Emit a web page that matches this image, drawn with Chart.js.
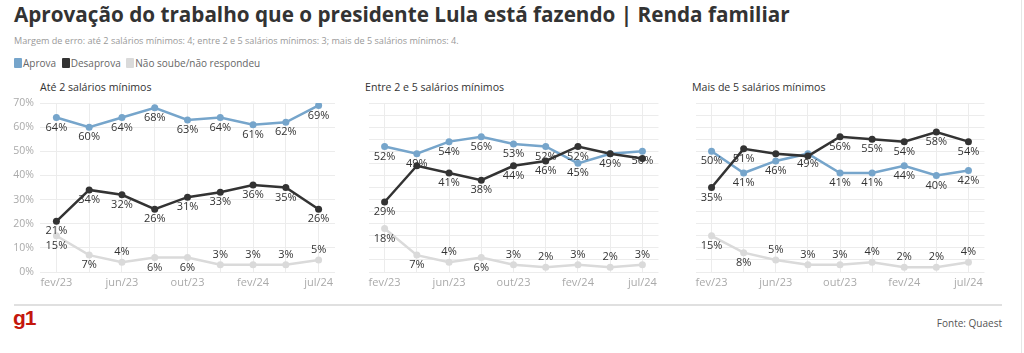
<!DOCTYPE html>
<html>
<head>
<meta charset="utf-8">
<script src="https://cdn.jsdelivr.net/npm/chart.js@4"></script>
<style>
  body { margin: 0; width: 1024px; height: 353px; background: #fff; font-family: "Open Sans", sans-serif; position: relative; overflow: hidden; }
  .abs { position: absolute; white-space: nowrap; }
  #titulo { left: 14px; top: 0px; font-size: 20.7px; font-weight: bold; color: #333; }
  #sub { left: 14px; top: 34px; font-size: 9.1px; color: #999; }
  #legenda { left: 14px; top: 56px; font-size: 10px; color: #666; }
  #legenda span.q { display: inline-block; width: 8px; height: 10px; vertical-align: -1px; margin-right: 1px; border-radius: 1px; }
  #legenda span.item { margin-right: 3px; }
  .painel { font-size: 10.6px; color: #333; top: 80px; }
  canvas { position: absolute; }
  #linha { left: 14px; top: 304px; width: 988px; height: 2px; background: #e0e0e0; position: absolute; }
  #g1 { left: 13px; top: 306px; font-size: 21px; font-weight: bold; color: #c4170c; letter-spacing: -1px; font-family: "Liberation Sans", Arial, sans-serif; }
  #fonte { right: 22px; top: 316px; font-size: 10px; color: #555; }
  #borda { position: absolute; left: 1021px; top: 0; width: 1px; height: 353px; background: #e6e6e6; }
</style>
</head>
<body>
<div id="titulo" class="abs">Aprovação do trabalho que o presidente Lula está fazendo | Renda familiar</div>
<div id="sub" class="abs">Margem de erro: até 2 salários mínimos: 4; entre 2 e 5 salários mínimos: 3; mais de 5 salários mínimos: 4.</div>
<div id="legenda" class="abs">
  <span class="item"><span class="q" style="background:#76a5cb"></span>Aprova</span>
  <span class="item"><span class="q" style="background:#333"></span>Desaprova</span>
  <span class="item"><span class="q" style="background:#dadada"></span>Não soube/não respondeu</span>
</div>
<div class="abs painel" style="left:40px">Até 2 salários mínimos</div>
<div class="abs painel" style="left:365px">Entre 2 e 5 salários mínimos</div>
<div class="abs painel" style="left:692px">Mais de 5 salários mínimos</div>

<canvas id="c1" width="340" height="197" style="left:0px;top:95px"></canvas>
<canvas id="c2" width="297" height="197" style="left:365px;top:95px"></canvas>
<canvas id="c3" width="296" height="197" style="left:692px;top:95px"></canvas>

<div id="linha"></div>
<div id="g1" class="abs">g1</div>
<div id="fonte" class="abs">Fonte: Quaest</div>
<div id="borda"></div>

<script>
let meses = ["fev/23", "abr/23", "jun/23", "ago/23", "out/23", "dez/23", "fev/24", "mai/24", "jul/24"]

// Até 2 salários mínimos
let aprova1 = [64, 60, 64, 68, 63, 64, 61, 62, 69]
let desaprova1 = [21, 34, 32, 26, 31, 33, 36, 35, 26]
let naoSabe1 = [15, 7, 4, 6, 6, 3, 3, 3, 5]

// Entre 2 e 5 salários mínimos
let aprova2 = [52, 49, 54, 56, 53, 52, 45, 49, 50]
let desaprova2 = [29, 44, 41, 38, 44, 46, 52, 49, 47]
let naoSabe2 = [18, 7, 4, 6, 3, 2, 3, 2, 3]

// Mais de 5 salários mínimos
let aprova3 = [50, 41, 46, 49, 41, 41, 44, 40, 42]
let desaprova3 = [35, 51, 49, 48, 56, 55, 54, 58, 54]
let naoSabe3 = [15, 8, 5, 3, 3, 4, 2, 2, 4]

// rótulos de "Desaprova" escondidos (sobrepostos no original)
let ocultos1 = []
let ocultos2 = [1, 7, 8]
let ocultos3 = [2, 3]

let corAprova = "#76a5cb"
let corDesaprova = "#333333"
let corNaoSabe = "#dadada"

let rotulos = {
    id: "rotulos",
    afterDatasetsDraw(chart) {
        let ctx = chart.ctx
        ctx.save()
        ctx.font = "11px 'Open Sans', sans-serif"
        ctx.fillStyle = "#333"
        ctx.textAlign = "center"
        ctx.textBaseline = "middle"
        chart.data.datasets.forEach(function (ds, i) {
            let meta = chart.getDatasetMeta(i)
            meta.data.forEach(function (pt, j) {
                let v = ds.data[j]
                if (ds.ocultos.indexOf(j) >= 0) return
                let dy = 10
                if (ds.label === "Não soube" && v <= 5) dy = -10
                ctx.fillText(v + "%", pt.x, pt.y + dy)
            })
        })
        ctx.restore()
    }
}

function serie(label, data, cor, ocultos) {
    return {
        label: label,
        data: data,
        borderColor: cor,
        backgroundColor: cor,
        borderWidth: 2.5,
        pointRadius: 3.5,
        pointBorderWidth: 0,
        pointHoverRadius: 3.5,
        tension: 0,
        ocultos: ocultos
    }
}

function grafico(id, aprova, desaprova, naoSabe, ocultos, comEixo) {
    let ctx = document.getElementById(id).getContext("2d")
    return new Chart(ctx, {
        type: "line",
        data: {
            labels: meses,
            datasets: [
                serie("Desaprova", desaprova, corDesaprova, ocultos),
                serie("Aprova", aprova, corAprova, []),
                serie("Não soube", naoSabe, corNaoSabe, [])
            ]
        },
        options: {
            responsive: false,
            animation: false,
            events: [],
            layout: { padding: { top: 8, right: comEixo ? 5 : 0, left: 0, bottom: 0 } },
            plugins: { legend: { display: false }, tooltip: { enabled: false } },
            scales: {
                x: {
                    offset: true,
                    grid: { offset: false, color: "#ececec", drawTicks: false },
                    border: { display: false },
                    ticks: {
                        color: "#aaa",
                        font: { size: 11, family: "'Open Sans', sans-serif" },
                        padding: 4,
                        maxRotation: 0,
                        autoSkip: false,
                        callback: function (v, i) { return i % 2 === 0 ? meses[i] : "" }
                    },
                    afterFit: function (s) {
                        s.height = 20
                        s.paddingLeft = 0
                        s.paddingRight = 0
                    }
                },
                y: {
                    min: 0,
                    max: 70,
                    grid: { color: "#ececec", drawTicks: false },
                    border: { display: false },
                    ticks: {
                        display: comEixo,
                        stepSize: 5,
                        color: "#aaa",
                        padding: 6,
                        font: { size: 10.5, family: "'Open Sans', sans-serif" },
                        callback: function (v) { return v % 10 === 0 ? v + "%" : "" }
                    },
                    afterFit: function (s) {
                        s.width = comEixo ? 40 : 0
                        s.paddingTop = 0
                        s.paddingBottom = 0
                    }
                }
            }
        },
        plugins: [rotulos]
    })
}

grafico("c1", aprova1, desaprova1, naoSabe1, ocultos1, true)
grafico("c2", aprova2, desaprova2, naoSabe2, ocultos2, false)
grafico("c3", aprova3, desaprova3, naoSabe3, ocultos3, false)
</script>
</body>
</html>
